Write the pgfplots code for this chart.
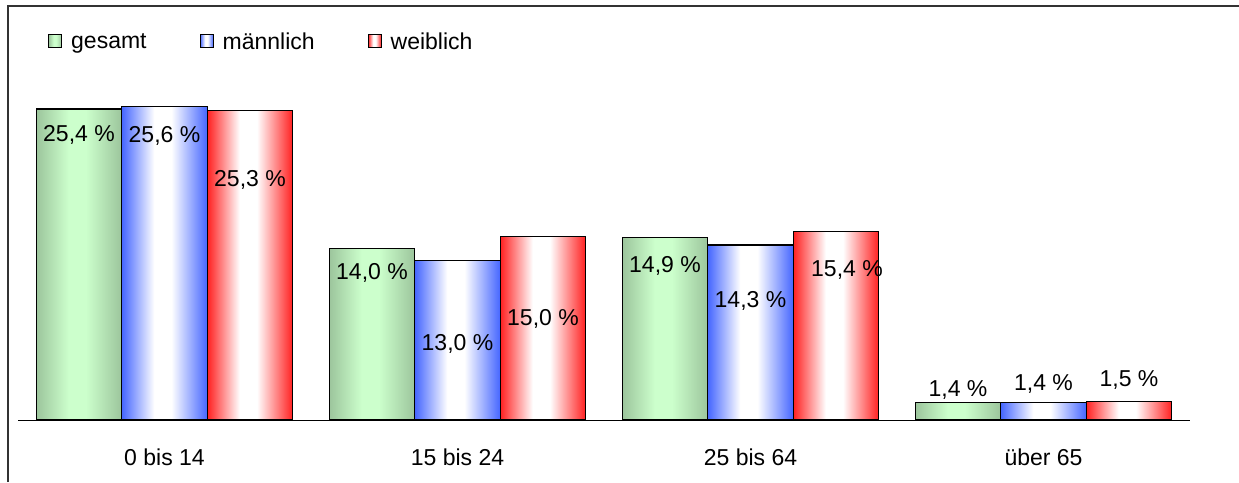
\documentclass[border=0pt]{standalone}
\usepackage{pgfplots}
\usepackage{pgfplotstable}
\pgfplotsset{compat=1.18}
\usepackage{fontspec}
\setmainfont{Liberation Sans}

\definecolor{gEdge}{HTML}{9CC59C}
\definecolor{gMid}{HTML}{CCFFCC}
\definecolor{bEdge}{HTML}{4566FF}
\definecolor{rEdge}{HTML}{FF2020}

% Farbverlauf: Rand -> Mitte -> Rand (Pfad liegt zwischen 25bp und 75bp)
\pgfdeclarehorizontalshading{gshade}{100bp}{color(0bp)=(gEdge); color(25bp)=(gEdge); color(44bp)=(gMid); color(54bp)=(gMid); color(75bp)=(gEdge); color(100bp)=(gEdge)}
\pgfdeclarehorizontalshading{mshade}{100bp}{color(0bp)=(bEdge); color(25bp)=(bEdge); color(44bp)=(white); color(54bp)=(white); color(75bp)=(bEdge); color(100bp)=(bEdge)}
\pgfdeclarehorizontalshading{wshade}{100bp}{color(0bp)=(rEdge); color(25bp)=(rEdge); color(44bp)=(white); color(54bp)=(white); color(75bp)=(rEdge); color(100bp)=(rEdge)}

% Anteile je Altersgruppe (Prozent)
\pgfplotstableread{
x g m w
0 25.4 25.6 25.3
1 14.0 13.0 15.0
2 14.9 14.3 15.4
3 1.4 1.4 1.5
}\bars

% Beschriftungen: Lage (x, y) und Wert v
\pgfplotstableread{
x y v
-0.2918 22.79 25.4
0 22.63 25.6
0.2918 19.04 25.3
0.7082 11.44 14.0
1 5.64 13.0
1.2918 7.76 15.0
1.7082 12.09 14.9
2 9.23 14.3
2.3293 11.76 15.4
2.7082 1.88 1.4
3 2.45 1.4
3.2918 2.70 1.5
}\labels

\pgfplotsset{
  barbase/.style={ybar, bar width=0.2918, draw=black, line width=1.2pt, forget plot},
  gbar/.style={barbase, bar shift=-0.2918, shading=gshade},
  mbar/.style={barbase, bar shift=0, shading=mshade},
  wbar/.style={barbase, bar shift=0.2918, shading=wshade},
}

\begin{document}
\begin{tikzpicture}[font=\fontsize{23}{27}\selectfont]
\begin{axis}[
  name=ax,
  scale only axis,
  width=1172pt, height=420pt,
  xmin=-0.5, xmax=3.5,
  ymin=0, ymax=34.31,
  axis y line=none,
  axis x line=bottom,
  x axis line style={-, line width=0.9pt},
  xtick={0,1,2,3},
  xticklabels={0 bis 14, 15 bis 24, 25 bis 64, über 65},
  major tick length=0pt,
  x tick label style={anchor=base, yshift=-45pt},
  clip=false,
  legend columns=3,
  legend image code/.code={\draw[#1, line width=1pt] (0pt,-6.5pt) rectangle (13pt,6.5pt);},
  legend style={draw=none, fill=none, inner sep=0pt, anchor=west,
    at={(axis cs:-0.3976,30.92)},
    nodes={inner sep=0pt},
    /tikz/every odd column/.append style={column sep=9pt},
    /tikz/every even column/.append style={column sep=53pt}},
]
% jeder Balken als eigener Pfad, damit der Farbverlauf pro Balken gilt
\pgfplotsinvokeforeach{0,...,3}{
  \addplot[gbar] table[x=x, y=g, restrict expr to domain={\coordindex}{#1:#1}] {\bars};
  \addplot[mbar] table[x=x, y=m, restrict expr to domain={\coordindex}{#1:#1}] {\bars};
  \addplot[wbar] table[x=x, y=w, restrict expr to domain={\coordindex}{#1:#1}] {\bars};
}

\addplot[draw=none, mark=none, forget plot,
  point meta=\thisrow{v},
  nodes near coords={\pgfmathprintnumber[fixed, fixed zerofill, precision=1, use comma, assume math mode=true]{\pgfplotspointmeta}~\%},
  nodes near coords style={anchor=base, inner sep=0pt, text=black}]
  table[x=x, y=y] {\labels};

\addlegendimage{draw=black, shading=gshade}
\addlegendentry{gesamt}
\addlegendimage{draw=black, shading=mshade}
\addlegendentry{männlich}
\addlegendimage{draw=black, shading=wshade}
\addlegendentry{weiblich}
\end{axis}
% Rahmen (oben und links)
\draw[line width=2pt, black!80] ([shift={(-10pt,-62pt)}]ax.south west) -- ([shift={(-10pt,414pt)}]ax.south west) -- ([shift={(1221pt,414pt)}]ax.south west);
\pgfresetboundingbox
\path[use as bounding box] ([shift={(-18pt,-62pt)}]ax.south west) rectangle ([shift={(1221pt,420pt)}]ax.south west);
\end{tikzpicture}
\end{document}
